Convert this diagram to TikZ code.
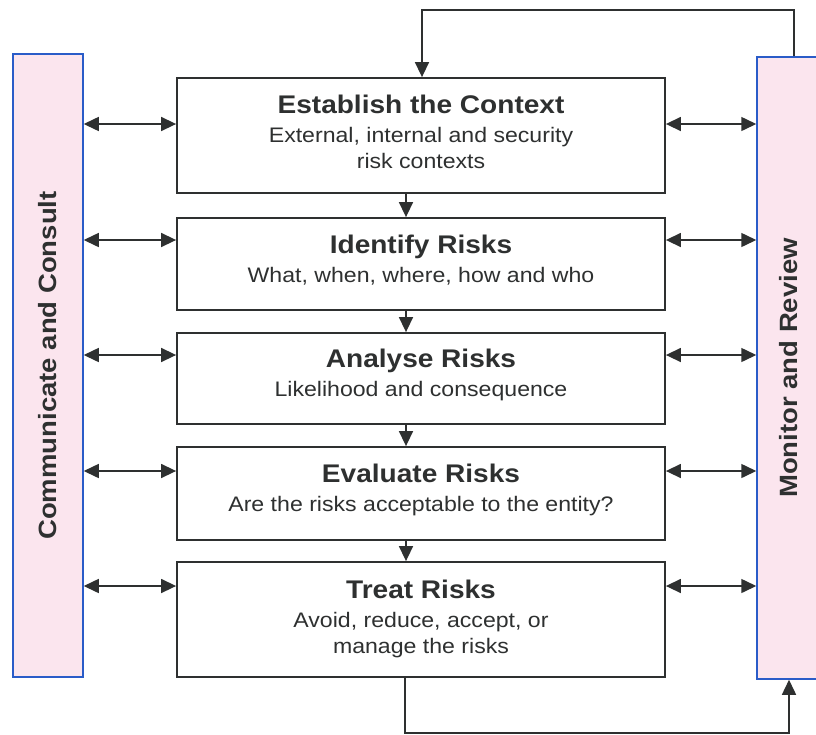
\documentclass[tikz,border=0pt]{standalone}
\usepackage{fontspec}
\setmainfont{Liberation Sans}[FakeStretch=1.1]
\usetikzlibrary{arrows.meta}
\definecolor{barfill}{HTML}{FBE5EE}
\definecolor{barline}{HTML}{2A5CC8}
\definecolor{ink}{HTML}{2E3030}
\newcommand{\titlef}{\fontsize{25.5}{28}\selectfont\bfseries}
\newcommand{\subf}{\fontsize{21}{26}\selectfont\mdseries}
\newcommand{\barf}{\fontsize{25}{30}\selectfont\bfseries}
\begin{document}
\begin{tikzpicture}[x=1pt,y=-1pt,
  stepbox/.style={draw=ink, line width=1.8pt, fill=white, minimum width=488pt,
    minimum height=#1, inner sep=0pt},
  steptext/.style={align=center, text=ink, font=\subf, inner sep=0pt},
  sidebar/.style={draw=barline, line width=1.5pt, fill=barfill, inner sep=0pt},
  barlabel/.style={rotate=90, text=ink, inner sep=0pt, font=\barf},
  conn/.style={draw=ink, line width=1.5pt, -{Triangle[length=15pt,width=14pt]}},
  dbl/.style={draw=ink, line width=1.5pt, {Triangle[length=15pt,width=14pt]}-{Triangle[length=15pt,width=14pt]}}]
\useasboundingbox (0,0) rectangle (816,734);
\clip (0,0) rectangle (816,734);
\fill[white] (0,0) rectangle (816,734);

% side bars
\node[sidebar, minimum width=70pt, minimum height=623pt] (L) at (48,365.5) {};
\node[barlabel] (Ltext) at (L.center) {Communicate and Consult};
\node[sidebar, minimum width=64pt, minimum height=622pt] (R) at (789,368) {};
\node[barlabel] (Rtext) at (R.center) {Monitor and Review};

% process boxes
\node[stepbox=115pt] (b1) at (421,135.5) {};
\node[stepbox=92pt] (b2) at (421,264) {};
\node[stepbox=91pt] (b3) at (421,378.5) {};
\node[stepbox=93pt] (b4) at (421,493.5) {};
\node[stepbox=115pt] (b5) at (421,619.5) {};
\node[steptext] (t1) at ([yshift=3.5pt]b1.center) {{\titlef Establish the Context}\\[3pt]External, internal and security\\risk contexts};
\node[steptext] (t2) at ([yshift=4pt]b2.center) {{\titlef Identify Risks}\\[3pt]What, when, where, how and who};
\node[steptext] (t3) at ([yshift=4pt]b3.center) {{\titlef Analyse Risks}\\[3pt]Likelihood and consequence};
\node[steptext] (t4) at ([yshift=4pt]b4.center) {{\titlef Evaluate Risks}\\[3pt]Are the risks acceptable to the entity?};
\node[steptext] (t5) at ([yshift=0.5pt]b5.center) {{\titlef Treat Risks}\\[3pt]Avoid, reduce, accept, or\\manage the risks};

% vertical arrows between boxes
\coordinate (vx) at (406,0);
\draw[conn] (b1.south -| vx) -- (b2.north -| vx);
\draw[conn] (b2.south -| vx) -- (b3.north -| vx);
\draw[conn] (b3.south -| vx) -- (b4.north -| vx);
\draw[conn] (b4.south -| vx) -- (b5.north -| vx);

% side double arrows
\coordinate (y1) at (0,124);
\coordinate (y2) at (0,240);
\coordinate (y3) at (0,355);
\coordinate (y4) at (0,471);
\coordinate (y5) at (0,586);
\foreach \i in {1,...,5}{
  \draw[dbl] (L.east |- y\i) -- (b\i.west |- y\i);
  \draw[dbl] (b\i.east |- y\i) -- (R.west |- y\i);
}

% feedback loops
\coordinate (tr) at (794,10);
\coordinate (tl) at (422,10);
\draw[conn] (R.north -| tr) -- (tr) -- (tl) -- (b1.north -| tl);
\coordinate (bl) at (405,733);
\coordinate (br) at (789,733);
\draw[conn] (b5.south -| bl) -- (bl) -- (br) -- (R.south -| br);
\end{tikzpicture}
\end{document}
